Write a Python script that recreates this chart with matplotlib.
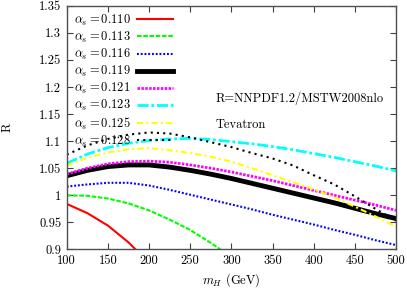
import matplotlib
matplotlib.use("Agg")
import matplotlib.pyplot as plt
from matplotlib.ticker import MultipleLocator, FormatStrFormatter

plt.rcParams['mathtext.fontset'] = 'cm'
plt.rcParams['font.family'] = ['cmr10', 'DejaVu Serif']
plt.rcParams['axes.unicode_minus'] = False

# Higgs mass grid (GeV)
mH = [100, 125, 150, 175, 200, 225, 250, 275, 300, 325, 350, 375, 400, 425, 450, 475, 500]

alphas = ['0.110', '0.113', '0.116', '0.119', '0.121', '0.123', '0.125', '0.128']

R_110 = [0.984, 0.967, 0.944, 0.913, 0.875]
R_113 = [1.000, 0.999, 0.994, 0.985, 0.972, 0.955, 0.936, 0.912, 0.886]
R_116 = [1.016, 1.020, 1.023, 1.023, 1.018, 1.010, 1.001, 0.992, 0.983,
         0.974, 0.964, 0.955, 0.946, 0.936, 0.927, 0.917, 0.908]
R_119 = [1.036, 1.046, 1.053, 1.056, 1.056, 1.052, 1.046, 1.039, 1.031,
         1.022, 1.013, 1.004, 0.995, 0.986, 0.976, 0.966, 0.957]
R_121 = [1.039, 1.050, 1.058, 1.062, 1.063, 1.061, 1.056, 1.050, 1.043,
         1.035, 1.027, 1.018, 1.009, 1.000, 0.991, 0.982, 0.972]
R_123 = [1.059, 1.076, 1.088, 1.096, 1.101, 1.104, 1.105, 1.103, 1.099,
         1.095, 1.090, 1.084, 1.077, 1.070, 1.062, 1.054, 1.045]
R_125 = [1.055, 1.069, 1.079, 1.085, 1.087, 1.083, 1.078, 1.071, 1.062,
         1.050, 1.037, 1.024, 1.011, 0.996, 0.979, 0.961, 0.942]
R_128 = [1.075, 1.092, 1.104, 1.112, 1.116, 1.114, 1.107, 1.098, 1.089,
         1.078, 1.068, 1.055, 1.037, 1.020, 0.998, 0.975, 0.953]

series = [R_110, R_113, R_116, R_119, R_121, R_123, R_125, R_128]

styles = [
    dict(color='#ff0000', lw=1.5, ls='-'),
    dict(color='#00ff00', lw=1.5, dashes=(2.2, 0.8)),
    dict(color='#0000ff', lw=1.5, dashes=(0.9, 0.9)),
    dict(color='#000000', lw=3.5, ls='-'),
    dict(color='#ff00ff', lw=2.0, dashes=(0.9, 0.5)),
    dict(color='#00ffff', lw=2.0, dashes=(4, 1, 1, 1)),
    dict(color='#ffff00', lw=1.5, dashes=(3, 1.5, 1, 1.5)),
    dict(color='#000000', lw=1.5, dashes=(1, 2)),
]

fig = plt.figure(figsize=(4.07, 2.88), dpi=100)
ax = fig.add_axes([0.164, 0.134, 0.809, 0.846])

for a, vals, st in zip(alphas, series, styles):
    ax.plot(mH[:len(vals)], vals, label=r'$\alpha_s = %s$' % a, **st)

ax.set_xlim(100, 500)
ax.set_ylim(0.9, 1.35)
ax.xaxis.set_major_locator(MultipleLocator(50))
ax.yaxis.set_major_locator(MultipleLocator(0.05))
ax.xaxis.set_major_formatter(FormatStrFormatter('%g'))
ax.yaxis.set_major_formatter(FormatStrFormatter('%g'))
ax.tick_params(direction='in', length=4, width=0.8, colors='#404040',
               labelcolor='black', labelsize=9, top=True, right=True, pad=4)
for sp in ax.spines.values():
    sp.set_color('#505050')
    sp.set_linewidth(1.0)

ax.set_xlabel(r'$m_H$ (GeV)', fontsize=9, labelpad=3)
ax.set_ylabel('R', fontsize=9, labelpad=18)

ax.text(0.452, 0.62, 'R=NNPDF1.2/MSTW2008nlo', transform=ax.transAxes,
        fontsize=9, va='center', ha='left')
ax.text(0.452, 0.51, 'Tevatron', transform=ax.transAxes,
        fontsize=9, va='center', ha='left')

ax.legend(loc='upper left', frameon=False, markerfirst=False, fontsize=9,
          handlelength=2.9, handletextpad=0.5, labelspacing=0.16,
          borderaxespad=0.15, bbox_to_anchor=(0.0, 1.0))

fig.savefig('out.png', dpi=100)
